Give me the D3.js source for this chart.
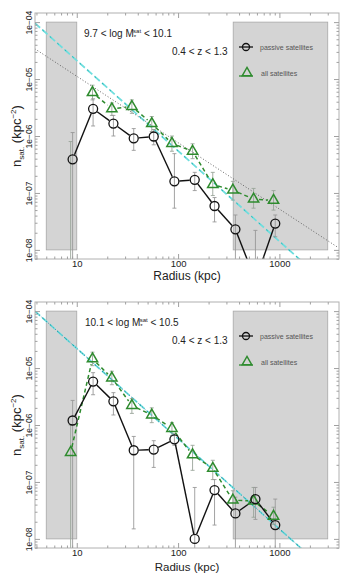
<!DOCTYPE html>
<html>
<head>
<meta charset="utf-8">
<script src="https://cdn.jsdelivr.net/npm/d3@7"></script>
<style>
  body { margin: 0; background: #fff; }
  text { font-family: "Liberation Sans", Arial, sans-serif; }
</style>
</head>
<body>
<svg id="chart" width="344" height="573"></svg>
<script>
// radii (kpc) of the bins
const radiusPassive = [9.1, 14.5, 23, 36.5, 57.5, 92, 146, 229, 368, 580, 910];
const radiusAll = [8.7, 14.3, 22.2, 35, 55, 87, 139, 220, 347, 556, 875];

// panel 1 : 9.7 < log M < 10.1
const passive1 = [3.9e-7, 3.0e-6, 1.65e-6, 9.1e-7, 9.8e-7, 1.6e-7, 1.7e-7, 5.9e-8, 2.3e-8, 2.9e-9, 2.9e-8];
const passive1Lo = [1e-10, 1.5e-6, 1.0e-6, 5.6e-7, 7.0e-7, 5.4e-8, 1.1e-7, 3.1e-8, 1e-10, 1e-10, 1.7e-8];
const passive1Hi = [1.15e-6, 4.5e-6, 2.3e-6, 1.35e-6, 1.3e-6, 4.9e-7, 2.3e-7, 8.3e-8, 4.1e-8, 2.2e-8, 4.1e-8];
const all1 = [null, 5.8e-6, 3.0e-6, 3.3e-6, 1.65e-6, 7.4e-7, 5.4e-7, 1.4e-7, 1.12e-7, 7.8e-8, 7.4e-8];
const all1Lo = [1e-10, 4.3e-6, 2.3e-6, 2.5e-6, 1.2e-6, 5.4e-7, 4.0e-7, 9.0e-8, 7.5e-8, 5.4e-8, 5.0e-8];
const all1Hi = [8e-7, 7.8e-6, 3.8e-6, 4.3e-6, 2.2e-6, 1.0e-6, 7.3e-7, 2.3e-7, 1.6e-7, 1.2e-7, 1.1e-7];

// panel 2 : 10.1 < log M < 10.5
const passive2 = [1.2e-6, 5.8e-6, 2.6e-6, 3.6e-7, 3.7e-7, 5.6e-7, 1.0e-8, 7.2e-8, 2.8e-8, 5.0e-8, 1.75e-8];
const passive2Lo = [1e-10, 3.4e-6, 1.5e-6, 1.5e-8, 1.8e-7, 4.4e-7, 1e-10, 1.75e-8, 1e-10, 2.2e-8, 1e-10];
const passive2Hi = [2.7e-6, 8.3e-6, 3.7e-6, 6.3e-7, 5.3e-7, 7.0e-7, 8e-8, 1.1e-7, 5.4e-8, 8e-8, 5e-8];
const all2 = [3.3e-7, 1.45e-5, 6.7e-6, 2.2e-6, 1.5e-6, 8.7e-7, 3.0e-7, 1.73e-7, 4.8e-8, 4.6e-8, 2.5e-8];
const all2Lo = [1e-10, 1.1e-5, 5.1e-6, 1.6e-6, 1.1e-6, 6.5e-7, 1.6e-7, 1.1e-7, 3.2e-8, 2.4e-8, 1.8e-8];
const all2Hi = [1e-6, 1.9e-5, 8.8e-6, 2.9e-6, 2.0e-6, 1.1e-6, 4.4e-7, 2.4e-7, 7e-8, 8e-8, 3.6e-8];

// power-law fits, as end points [radius, density]
const fitCyan1 = [[3.86, 9.6e-5], [3800, 1.7e-9]];
const fitDotted1 = [[3.86, 3.4e-5], [3800, 1.1e-8]];
const fitCyan2 = [[3.86, 1.0e-4], [3800, 1.8e-9]];
const fitDotted2 = [[3.86, 1.0e-4], [3800, 1.8e-9]];

// excluded regions [r0, r1]
const excluded = [[5, 10], [350, 3000]];
const xLimits = [5, 3000];
const yLimits = [1e-8, 1e-4];
const xMajor = [10, 100, 1000];
const yMajor = [1e-8, 1e-7, 1e-6, 1e-5, 1e-4];

const svg = d3.select("#chart");

// R style 4% padding on a log axis
function padLog(lim) {
  let a = Math.log10(lim[0]), b = Math.log10(lim[1]);
  let d = 0.04 * (b - a);
  return [Math.pow(10, a - d), Math.pow(10, b + d)];
}

function minorTicks(dom) {
  let out = [];
  for (let e = -12; e <= 5; e++) {
    for (let m = 2; m <= 9; m++) {
      let v = m * Math.pow(10, e);
      if (v > dom[0] && v < dom[1]) out.push(v);
    }
  }
  return out;
}

function drawPanel(cfg) {
  let left = 35, right = 339, top = cfg.top, bottom = cfg.bottom;

  let x = d3.scaleLog().domain(padLog(xLimits)).range([left, right]);
  let y = d3.scaleLog().domain(padLog(yLimits)).range([bottom, top]);

  let g = svg.append("g");

  let clipId = "clip" + cfg.id;
  g.append("clipPath").attr("id", clipId)
    .append("rect")
    .attr("x", left).attr("y", top)
    .attr("width", right - left).attr("height", bottom - top);

  // grey excluded regions
  g.selectAll(".excl").data(excluded).enter().append("rect")
    .attr("x", d => x(d[0]))
    .attr("width", d => x(d[1]) - x(d[0]))
    .attr("y", y(yLimits[1]))
    .attr("height", y(yLimits[0]) - y(yLimits[1]))
    .attr("fill", "#d4d4d4")
    .attr("stroke", "#a8a8a8")
    .attr("stroke-width", 0.8);

  let plot = g.append("g").attr("clip-path", `url(#${clipId})`);
  let line = d3.line().x(d => x(d[0])).y(d => y(d[1]));

  // fits
  plot.append("path").attr("d", line(cfg.fitCyan))
    .attr("fill", "none").attr("stroke", "#6fdede")
    .attr("stroke-width", 1.8).attr("stroke-dasharray", "7,3");
  plot.append("path").attr("d", line(cfg.fitCyan))
    .attr("fill", "none").attr("stroke", "#2bb5b5")
    .attr("stroke-width", 1.0).attr("stroke-dasharray", "2,8");
  plot.append("path").attr("d", line(cfg.fitDotted))
    .attr("fill", "none").attr("stroke", cfg.dotColor)
    .attr("stroke-width", 0.9).attr("stroke-dasharray", "1,2");

  // error bars
  function errBars(rs, lo, hi, colour) {
    rs.forEach((r, i) => {
      let px = x(r);
      let y0 = y(lo[i]), y1 = y(hi[i]);
      plot.append("line")
        .attr("x1", px).attr("x2", px).attr("y1", y0).attr("y2", y1)
        .attr("stroke", colour).attr("stroke-width", 0.9);
      [y0, y1].forEach(py => {
        plot.append("line")
          .attr("x1", px - 2).attr("x2", px + 2).attr("y1", py).attr("y2", py)
          .attr("stroke", colour).attr("stroke-width", 0.9);
      });
    });
  }
  errBars(radiusAll, cfg.allLo, cfg.allHi, "#9aa59a");
  errBars(radiusPassive, cfg.passiveLo, cfg.passiveHi, "#999");

  // lines joining points, broken at the markers (type "b")
  function joinPoints(rs, vals, gap, colour, dash, width) {
    for (let i = 0; i < rs.length - 1; i++) {
      if (vals[i] == null || vals[i + 1] == null) continue;
      let ax = x(rs[i]), ay = y(vals[i]);
      let bx = x(rs[i + 1]), by = y(vals[i + 1]);
      let len = Math.hypot(bx - ax, by - ay);
      if (len < 2 * gap) continue;
      let ux = (bx - ax) / len, uy = (by - ay) / len;
      plot.append("line")
        .attr("x1", ax + ux * gap).attr("y1", ay + uy * gap)
        .attr("x2", bx - ux * gap).attr("y2", by - uy * gap)
        .attr("stroke", colour).attr("stroke-width", width)
        .attr("stroke-dasharray", dash);
    }
  }
  joinPoints(radiusAll, cfg.all, 5.5, "#2e8b2e", "4,3", 1.5);
  joinPoints(radiusPassive, cfg.passive, 5, "#111", null, 1.4);

  let tri = d3.symbol().type(d3.symbolTriangle).size(46);
  radiusAll.forEach((r, i) => {
    if (cfg.all[i] == null) return;
    plot.append("path").attr("d", tri)
      .attr("transform", `translate(${x(r)},${y(cfg.all[i])})`)
      .attr("fill", "none").attr("stroke", "#2e8b2e").attr("stroke-width", 1.5);
  });
  radiusPassive.forEach((r, i) => {
    plot.append("circle")
      .attr("cx", x(r)).attr("cy", y(cfg.passive[i])).attr("r", 4.5)
      .attr("fill", "none").attr("stroke", "#111").attr("stroke-width", 1.3);
  });

  // frame with inward ticks on all sides
  g.append("rect")
    .attr("x", left).attr("y", top)
    .attr("width", right - left).attr("height", bottom - top)
    .attr("fill", "none").attr("stroke", "#b0b0b0").attr("stroke-width", 1);

  let xMinor = minorTicks(x.domain());
  let yMinor = minorTicks(y.domain());

  function addAxis(axis, tx, ty) {
    let a = g.append("g").attr("transform", `translate(${tx},${ty})`).call(axis);
    a.select(".domain").remove();
    a.selectAll(".tick line").attr("stroke", "#a0a0a0");
    return a;
  }
  let fmtY = d => d3.format(".0e")(d).replace("e-", "e\u221200").replace(/e\u2212(\d)(\d)(\d)/, "e\u2212$2$3");

  let bx = addAxis(d3.axisBottom(x).tickValues(xMajor).tickSize(-5).tickPadding(1.5)
    .tickFormat(d3.format("d")), 0, bottom);
  bx.selectAll("text").attr("font-size", 9.5).attr("fill", "#222")
    .attr("font-family", "Liberation Sans, Arial, sans-serif");
  addAxis(d3.axisBottom(x).tickValues(xMinor).tickSize(-2.5).tickFormat(""), 0, bottom);
  addAxis(d3.axisTop(x).tickValues(xMajor).tickSize(-5).tickFormat(""), 0, top);
  addAxis(d3.axisTop(x).tickValues(xMinor).tickSize(-2.5).tickFormat(""), 0, top);

  let ly = addAxis(d3.axisLeft(y).tickValues(yMajor).tickSize(-5).tickFormat(fmtY), left, 0);
  ly.selectAll("text")
    .attr("transform", "rotate(-90)")
    .attr("x", 0).attr("y", -3).attr("dy", 0)
    .attr("text-anchor", "middle")
    .attr("font-size", 8.5).attr("fill", "#222")
    .attr("font-family", "Liberation Sans, Arial, sans-serif");
  addAxis(d3.axisLeft(y).tickValues(yMinor).tickSize(-2.5).tickFormat(""), left, 0);
  addAxis(d3.axisRight(y).tickValues(yMajor).tickSize(-5).tickFormat(""), right, 0);
  addAxis(d3.axisRight(y).tickValues(yMinor).tickSize(-2.5).tickFormat(""), right, 0);

  // axis titles
  g.append("text")
    .attr("x", (left + right) / 2).attr("y", cfg.titleY)
    .attr("text-anchor", "middle").attr("font-size", cfg.titleSize).attr("fill", "#222")
    .text("Radius (kpc)");

  let yt = g.append("text")
    .attr("transform", `translate(21,${(top + bottom) / 2}) rotate(-90)`)
    .attr("text-anchor", "middle").attr("font-size", 13).attr("fill", "#222");
  yt.append("tspan").text("n");
  yt.append("tspan").attr("font-size", 8).attr("dy", 3).text("sat.");
  yt.append("tspan").attr("dy", -3).text(" (kpc");
  yt.append("tspan").attr("font-size", 8).attr("dy", -5).text("\u22122");
  yt.append("tspan").attr("dy", 5).text(")");

  // annotations
  let t1 = g.append("text").attr("x", cfg.labelX).attr("y", top + 24)
    .attr("font-size", 10).attr("fill", "#222");
  t1.append("tspan").text(cfg.massLo + " < log M");
  t1.append("tspan").attr("font-size", 6).attr("dy", 2).text("*");
  t1.append("tspan").attr("font-size", 6).attr("dx", -3).attr("dy", -6).text("sat");
  t1.append("tspan").attr("dy", 4).text(" < " + cfg.massHi);

  g.append("text").attr("x", 172).attr("y", top + 42)
    .attr("font-size", 10).attr("fill", "#222")
    .text("0.4 < z < 1.3");

  // legend
  let lx = 246, ly1 = top + 34, ly2 = top + 60;
  g.append("line").attr("x1", lx - 7).attr("x2", lx + 7).attr("y1", ly1).attr("y2", ly1)
    .attr("stroke", "#111").attr("stroke-width", 1.3);
  g.append("circle").attr("cx", lx).attr("cy", ly1).attr("r", 3.5)
    .attr("fill", "none").attr("stroke", "#111").attr("stroke-width", 1.3);
  g.append("line").attr("x1", lx - 7).attr("x2", lx + 7).attr("y1", ly2 + 3).attr("y2", ly2 + 3)
    .attr("stroke", "#2e8b2e").attr("stroke-width", 1.3);
  g.append("path").attr("d", d3.symbol().type(d3.symbolTriangle).size(40))
    .attr("transform", `translate(${lx + 1},${ly2})`)
    .attr("fill", "none").attr("stroke", "#2e8b2e").attr("stroke-width", 1.4);
  g.append("text").attr("x", 260).attr("y", ly1 + 2.5)
    .attr("font-size", 7).attr("fill", "#555").text("passive satellites");
  g.append("text").attr("x", 261).attr("y", ly2 + 2.5)
    .attr("font-size", 7).attr("fill", "#555").text("all satellites");
}

drawPanel({
  id: 1, top: 13, bottom: 259, titleY: 280, titleSize: 12,
  passive: passive1, passiveLo: passive1Lo, passiveHi: passive1Hi,
  all: all1, allLo: all1Lo, allHi: all1Hi,
  fitCyan: fitCyan1, fitDotted: fitDotted1, dotColor: "#555",
  labelX: 84, massLo: "9.7", massHi: "10.1"
});

drawPanel({
  id: 2, top: 302, bottom: 548, titleY: 570.5, titleSize: 11.5,
  passive: passive2, passiveLo: passive2Lo, passiveHi: passive2Hi,
  all: all2, allLo: all2Lo, allHi: all2Hi,
  fitCyan: fitCyan2, fitDotted: fitDotted2, dotColor: "#1f7f9f",
  labelX: 85, massLo: "10.1", massHi: "10.5"
});
</script>
</body>
</html>
